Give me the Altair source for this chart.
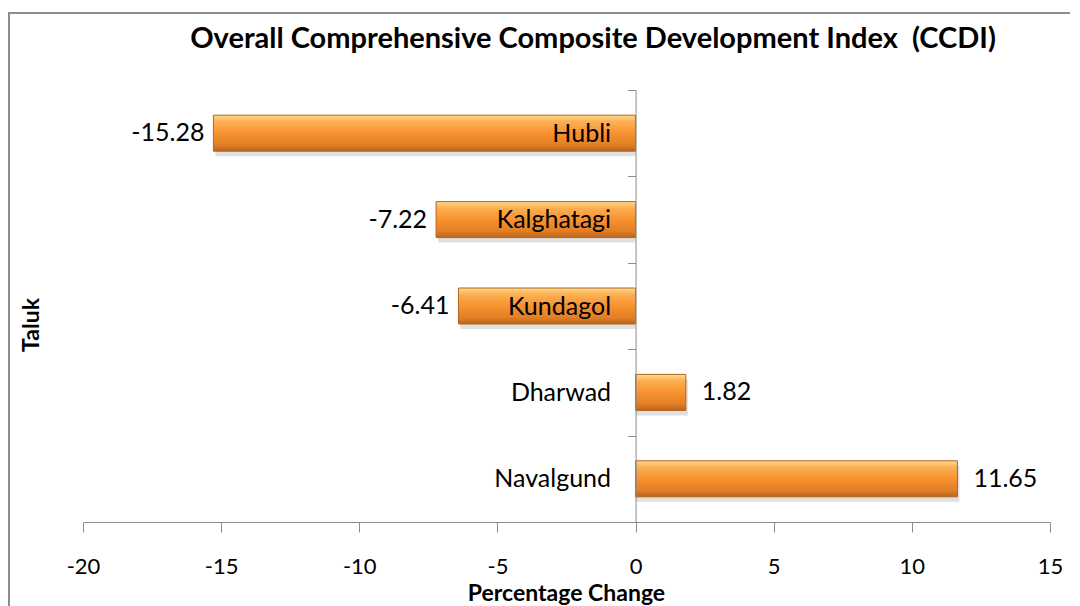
import altair as alt
import pandas as pd

# ---- data ----
taluks = ["Hubli", "Kalghatagi", "Kundagol", "Dharwad", "Navalgund"]
values = [-15.28, -7.22, -6.41, 1.82, 11.65]
x_ticks = [-20, -15, -10, -5, 0, 5, 10, 15]
x_domain = [-20, 15]
title_text = "Overall Comprehensive Composite Development Index \u00a0(CCDI)"
x_title = "Percentage Change"
y_title = "Taluk"

df = pd.DataFrame({"taluk": taluks, "value": values})

W, H = 967, 432
FONT = "Lato"
GREY = "#8c8c8c"
BAR_PX = 36

zero_px = (0 - x_domain[0]) / (x_domain[1] - x_domain[0]) * W

x_enc = alt.X(
    "value:Q",
    scale=alt.Scale(domain=x_domain, nice=False, zero=False),
    axis=alt.Axis(
        values=x_ticks, grid=False, domainColor=GREY, tickColor=GREY,
        tickSize=10, labelFontSize=22, labelFont=FONT, labelColor="#000",
        labelPadding=24, labelFlush=False, title=None,
        labelExpr="replace(datum.label, '\u2212', '-')",
    ),
)

y_enc = alt.Y(
    "taluk:N",
    sort=taluks,
    scale=alt.Scale(paddingInner=0, paddingOuter=0),
    axis=alt.Axis(
        offset=-zero_px, tickBand="extent", domainColor=GREY, tickColor=GREY,
        tickSize=8, labelFontSize=25, labelFont=FONT, labelColor="#000",
        labelPadding=17, zindex=1, title=None,
    ),
)

base = alt.Chart(df).transform_calculate(
    lbl="replace(format(datum.value, '.2f'), '\u2212', '-')"
)

frame = base.mark_rect(
    fill=None, stroke=GREY, strokeWidth=2
).encode(
    x=alt.value(-74), x2=alt.value(1200), y=alt.value(-77), y2=alt.value(800)
)

shadow = base.mark_bar(color="#000000", opacity=0.12, yOffset=5, xOffset=2,
                       size=BAR_PX).encode(
    x=x_enc, x2=alt.datum(0), y=y_enc
)

grad = alt.Gradient(
    gradient="linear", x1=0, y1=0, x2=0, y2=1,
    stops=[
        alt.GradientStop(offset=0.0, color="#FDDA8E"),
        alt.GradientStop(offset=0.18, color="#FBAF52"),
        alt.GradientStop(offset=0.5, color="#F8922F"),
        alt.GradientStop(offset=0.82, color="#E27F25"),
        alt.GradientStop(offset=1.0, color="#B9641E"),
    ],
)

bars = base.mark_bar(color=grad, stroke="#B5651D", strokeWidth=1,
                     size=BAR_PX).encode(
    x=x_enc, x2=alt.datum(0), y=y_enc
)

neg_labels = base.transform_filter("datum.value < 0").mark_text(
    align="right", baseline="middle", dx=-9, fontSize=25, font=FONT, color="#000"
).encode(x=x_enc, y=y_enc, text="lbl:N")

pos_labels = base.transform_filter("datum.value >= 0").mark_text(
    align="left", baseline="middle", dx=16, fontSize=25, font=FONT, color="#000"
).encode(x=x_enc, y=y_enc, text="lbl:N")

title_mark = alt.Chart(pd.DataFrame({"t": [title_text]})).mark_text(
    font=FONT, fontSize=29, fontWeight="bold", color="#000",
    align="center", baseline="alphabetic",
).encode(x=alt.value(510), y=alt.value(-42), text="t:N")

xtitle_mark = alt.Chart(pd.DataFrame({"t": [x_title]})).mark_text(
    font=FONT, fontSize=23, fontWeight="bold", color="#000",
    align="center", baseline="alphabetic",
).encode(x=alt.value(W / 2), y=alt.value(511), text="t:N")

ytitle_mark = alt.Chart(pd.DataFrame({"t": [y_title]})).mark_text(
    font=FONT, fontSize=23, fontWeight="bold", color="#000",
    align="center", baseline="middle", angle=270,
).encode(x=alt.value(-51), y=alt.value(235), text="t:N")

chart = alt.layer(
    frame, shadow, bars, neg_labels, pos_labels, title_mark, xtitle_mark, ytitle_mark
).properties(
    width=W,
    height=H,
    autosize=alt.AutoSizeParams(type="none"),
    padding={"left": 75, "top": 82, "right": 20, "bottom": 84},
).configure_view(stroke=None)

chart.save("out.html", embed_options={"renderer": "svg", "actions": False})
